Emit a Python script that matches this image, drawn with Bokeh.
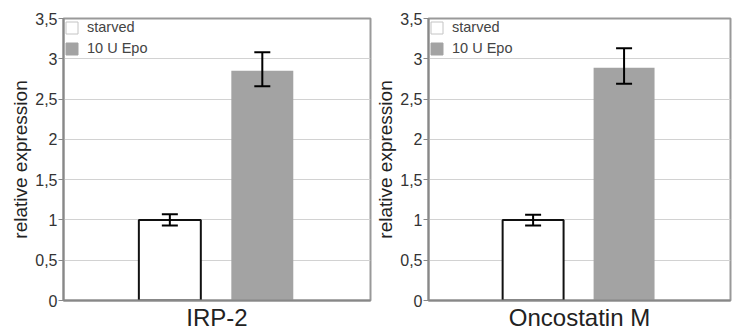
from bokeh.plotting import figure
from bokeh.layouts import row
from bokeh.models import Range1d, FixedTicker, Legend, LegendItem, ColumnDataSource, Whisker
from bokeh.embed import file_html
from bokeh.resources import INLINE

conditions = ["starved", "10 U Epo"]
genes = ["IRP-2", "Oncostatin M"]
irp2_values = [1.0, 2.85]
irp2_err_low = [0.93, 2.66]
irp2_err_high = [1.07, 3.08]
osm_values = [1.0, 2.89]
osm_err_low = [0.93, 2.69]
osm_err_high = [1.065, 3.13]
y_ticks = [0, 0.5, 1, 1.5, 2, 2.5, 3, 3.5]
y_tick_labels = ["0", "0,5", "1", "1,5", "2", "2,5", "3", "3,5"]

FONT = "Liberation Sans"
fills = ["#ffffff", "#a3a3a3"]
NAN = float("nan")


def make_panel(gene, vals, lo, hi, width, min_left, min_right):
    p = figure(width=width, height=333, output_backend="svg", toolbar_location=None,
               x_range=Range1d(-1.15, 2.17), y_range=Range1d(0, 3.5),
               min_border_left=min_left, min_border_right=min_right,
               min_border_top=18, min_border_bottom=5)
    xs = list(range(len(conditions)))
    src = ColumnDataSource(dict(x=xs, top=vals, lo=lo, hi=hi, fill=fills,
                                line=["#111111", "#a3a3a3"], lw=[2, 0]))
    p.vbar(x="x", top="top", width=0.67, source=src, fill_color="fill",
           line_color="line", line_width="lw")
    w = Whisker(base="x", lower="lo", upper="hi", source=src, line_color="black",
                line_width=2, level="overlay")
    w.upper_head.size = 16
    w.lower_head.size = 16
    w.upper_head.line_width = 2
    w.lower_head.line_width = 2
    p.add_layout(w)

    # legend proxies (not drawn in the plot)
    r1 = p.vbar(x=[NAN], top=[NAN], width=0.5, fill_color="#ffffff", line_color="#c4c4c4", line_width=1)
    r2 = p.vbar(x=[NAN], top=[NAN], width=0.5, fill_color="#a3a3a3", line_color="#a3a3a3", line_width=1)
    leg = Legend(items=[LegendItem(label=conditions[0], renderers=[r1]),
                        LegendItem(label=conditions[1], renderers=[r2])],
                 location="top_left", border_line_color=None, background_fill_alpha=0,
                 label_text_font=FONT, label_text_font_size="14.5px",
                 label_text_color="#444444", glyph_width=15, glyph_height=15,
                 label_height=15, spacing=5, padding=3, margin=1, label_standoff=8)
    p.add_layout(leg)

    p.outline_line_color = "#999999"
    p.outline_line_width = 2
    p.xgrid.grid_line_color = None
    p.ygrid.grid_line_color = "#d2d2d2"
    p.ygrid.grid_line_width = 1

    p.yaxis.ticker = FixedTicker(ticks=y_ticks)
    p.yaxis.major_label_overrides = {t: l for t, l in zip(y_ticks, y_tick_labels)}
    p.yaxis.minor_tick_line_color = None
    p.yaxis.major_tick_in = 0
    p.yaxis.major_tick_out = 5
    p.yaxis.major_tick_line_color = "#888888"
    p.yaxis.axis_line_color = "#888888"
    p.yaxis.axis_line_width = 2
    p.yaxis.major_label_text_font = FONT
    p.yaxis.major_label_text_font_size = "16px"
    p.yaxis.major_label_text_color = "#333333"
    p.yaxis.major_label_standoff = 1
    p.yaxis.axis_label = "relative expression"
    p.yaxis.axis_label_text_font = FONT
    p.yaxis.axis_label_text_font_size = "19px"
    p.yaxis.axis_label_text_font_style = "normal"
    p.yaxis.axis_label_text_color = "#222222"
    p.yaxis.axis_label_standoff = 1

    p.xaxis.ticker = FixedTicker(ticks=[])
    p.xaxis.major_tick_line_color = None
    p.xaxis.minor_tick_line_color = None
    p.xaxis.axis_line_color = "#888888"
    p.xaxis.axis_line_width = 2
    p.xaxis.axis_label = gene
    p.xaxis.axis_label_text_font = FONT
    p.xaxis.axis_label_text_font_size = "24px"
    p.xaxis.axis_label_text_font_style = "normal"
    p.xaxis.axis_label_text_color = "#222222"
    p.xaxis.axis_label_standoff = 3
    return p


p1 = make_panel(genes[0], irp2_values, irp2_err_low, irp2_err_high, 372, 63, 2)
p2 = make_panel(genes[1], osm_values, osm_err_low, osm_err_high, 361, 55, 3)
layout = row(p1, p2)

open("out.html", "w").write(file_html(layout, INLINE))
